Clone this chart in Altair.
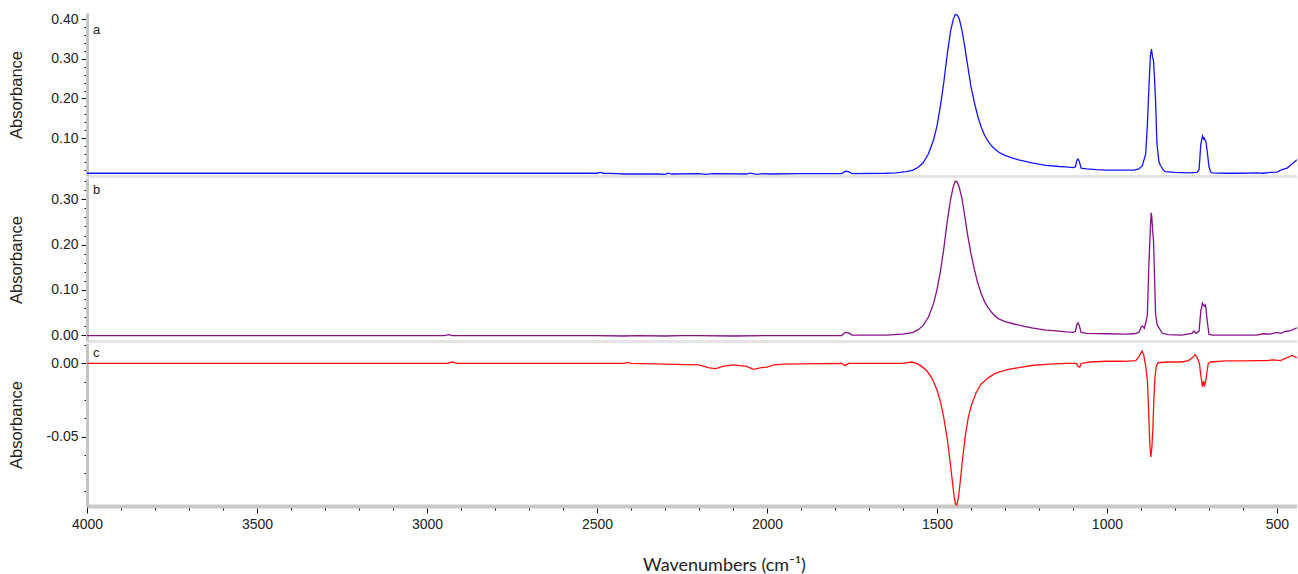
import altair as alt
import pandas as pd

# ---------------- data ----------------
wn_a = [4000, 3500, 3000, 2600, 2500, 2490, 2480, 2440, 2420, 2320, 2300, 2290, 2280, 2200, 2180, 2160,
        2060, 2050, 2030, 2010, 1990, 1900, 1780, 1770, 1760, 1750, 1650, 1620, 1590, 1570, 1555,
        1540, 1525, 1510, 1500, 1490, 1480, 1470, 1460, 1452, 1446, 1440, 1434, 1426, 1418, 1410,
        1400, 1390, 1380, 1370, 1360, 1350, 1340, 1330, 1318, 1300, 1280, 1260, 1240, 1221, 1180,
        1140, 1121, 1100, 1093, 1088, 1085, 1081, 1076, 1060, 1030, 1000, 960, 920, 906, 896, 886,
        881, 876, 872, 869, 866, 863, 860, 857, 853, 847, 843, 835, 829, 800, 760, 735, 729, 724,
        719, 716, 714, 711, 709, 705, 700, 695, 690, 650, 600, 560, 540, 520, 500, 485, 470, 455, 441]
abs_a = [0.011, 0.011, 0.011, 0.011, 0.011, 0.013, 0.011, 0.010, 0.009, 0.009, 0.008, 0.011, 0.009,
         0.010, 0.008, 0.010, 0.009, 0.011, 0.008, 0.010, 0.009, 0.010, 0.010, 0.016, 0.015, 0.010,
         0.011, 0.012, 0.015, 0.019, 0.026, 0.038, 0.060, 0.095, 0.130, 0.180, 0.240, 0.310, 0.370,
         0.400, 0.412, 0.411, 0.400, 0.370, 0.330, 0.285, 0.230, 0.190, 0.155, 0.128, 0.107, 0.092,
         0.081, 0.072, 0.064, 0.056, 0.050, 0.045, 0.041, 0.037, 0.031, 0.028, 0.027, 0.025, 0.027,
         0.045, 0.047, 0.040, 0.024, 0.022, 0.020, 0.019, 0.019, 0.019, 0.022, 0.030, 0.060, 0.135,
         0.240, 0.310, 0.325, 0.305, 0.295, 0.250, 0.195, 0.085, 0.040, 0.031, 0.020, 0.015, 0.013,
         0.012, 0.013, 0.020, 0.084, 0.105, 0.098, 0.100, 0.094, 0.092, 0.066, 0.028, 0.014, 0.012,
         0.011, 0.011, 0.012, 0.011, 0.013, 0.014, 0.020, 0.024, 0.035, 0.045]

wn_b = [4000, 3500, 3000, 2950, 2935, 2925, 2700, 2500, 2420, 2380, 2300, 2250, 2200, 2100, 2000,
        1900, 1780, 1770, 1760, 1750, 1650, 1600, 1570, 1555, 1540, 1525, 1510, 1500, 1490, 1480,
        1470, 1460, 1452, 1446, 1440, 1434, 1426, 1418, 1410, 1400, 1390, 1380, 1370, 1360, 1350,
        1340, 1330, 1318, 1300, 1270, 1240, 1221, 1180, 1140, 1121, 1100, 1093, 1088, 1085, 1081,
        1076, 1060, 1000, 950, 920, 906, 899, 895, 890, 885, 881, 877, 873, 870, 868, 866, 863, 859,
        857, 852, 847, 837, 820, 780, 750, 744, 738, 729, 724, 719, 716, 714, 711, 709, 705, 700,
        690, 650, 600, 560, 540, 520, 500, 490, 475, 460, 441]
abs_b = [-0.001, -0.001, -0.001, -0.001, 0.001, -0.001, -0.001, -0.001, -0.002, -0.001, -0.002,
         -0.001, -0.001, -0.002, -0.001, -0.001, -0.001, 0.006, 0.005, 0.000, 0.000, 0.002, 0.006,
         0.012, 0.022, 0.040, 0.070, 0.100, 0.140, 0.190, 0.250, 0.300, 0.328, 0.340, 0.338, 0.325,
         0.300, 0.262, 0.222, 0.180, 0.145, 0.115, 0.092, 0.074, 0.061, 0.051, 0.043, 0.036, 0.030,
         0.024, 0.019, 0.016, 0.011, 0.009, 0.007, 0.006, 0.008, 0.024, 0.027, 0.020, 0.006, 0.004,
         0.003, 0.002, 0.003, 0.006, 0.018, 0.020, 0.015, 0.030, 0.046, 0.150, 0.223, 0.270, 0.260,
         0.236, 0.207, 0.104, 0.046, 0.022, 0.016, 0.004, 0.001, 0.000, 0.004, 0.009, 0.004, 0.009,
         0.053, 0.071, 0.066, 0.064, 0.067, 0.060, 0.031, 0.002, 0.000, 0.000, 0.000, 0.000, 0.003,
         0.002, 0.006, 0.004, 0.008, 0.010, 0.016]

wn_c = [4000, 3500, 3000, 2940, 2925, 2910, 2420, 2410, 2400, 2200, 2170, 2150, 2130, 2100, 2060,
        2040, 2020, 2000, 1980, 1950, 1780, 1770, 1760, 1600, 1575, 1560, 1545, 1530, 1515, 1500,
        1490, 1480, 1470, 1462, 1455, 1450, 1446, 1442, 1437, 1432, 1425, 1417, 1408, 1398, 1385,
        1370, 1350, 1330, 1318, 1290, 1250, 1221, 1180, 1121, 1090, 1085, 1080, 1076, 1050, 1000,
        950, 915, 905, 897, 892, 886, 881, 877, 874, 871, 868, 865, 862, 859, 855, 850, 820, 780,
        760, 748, 741, 735, 728, 724, 719, 716, 713, 710, 706, 702, 695, 650, 600, 560, 530, 510,
        490, 470, 455, 441]
abs_c = [0.0, 0.0, 0.0, 0.0, 0.001, 0.0, 0.0, 0.0007, 0.0, -0.001, -0.003, -0.0035, -0.002, -0.001,
         -0.002, -0.004, -0.003, -0.0025, -0.001, -0.0005, 0.0, -0.0015, 0.0, 0.0, 0.001, 0.0,
         -0.002, -0.005, -0.010, -0.018, -0.026, -0.037, -0.051, -0.066, -0.080, -0.090, -0.096,
         -0.097, -0.092, -0.082, -0.066, -0.050, -0.037, -0.028, -0.020, -0.014, -0.010, -0.007,
         -0.006, -0.004, -0.0025, -0.0014, -0.0006, 0.0, 0.0, -0.002, -0.0025, 0.0, 0.001, 0.0015,
         0.0015, 0.002, 0.005, 0.0085, 0.006, -0.002, -0.012, -0.035, -0.055, -0.064, -0.058,
         -0.045, -0.025, -0.010, -0.002, 0.0005, 0.001, 0.001, 0.002, 0.004, 0.006, 0.004, 0.0,
         -0.008, -0.016, -0.012, -0.015, -0.013, -0.006, 0.0, 0.001, 0.0018, 0.0018, 0.002, 0.002,
         0.0025, 0.002, 0.004, 0.0055, 0.004]

x_domain = [4000, 441]
x_ticks = list(range(4000, 441, -100))
ticks_a = [round(0.02 * i, 2) for i in range(1, 21)]
ticks_b = [round(0.02 * i, 2) for i in range(0, 18)]
ticks_c = [round(0.0125 - 0.0125 * i, 4) for i in range(0, 9)]

W = 1210
H = 163
LABEL_FONT = "Liberation Sans"
AXIS_GREY = "#c4c4c4"


def y_axis(values, step_mult):
    major = f"abs(datum.value*{step_mult} - round(datum.value*{step_mult})) < 0.000001"
    return alt.Axis(
        values=values,
        title="Absorbance",
        titleFont=LABEL_FONT, titleFontSize=16.5, titleFontWeight="normal", titleColor="#222222",
        titlePadding=8,
        labelFont=LABEL_FONT, labelFontSize=14, labelColor="#222222", labelPadding=3,
        labelOverlap=False, labelFlush=False,
        labelExpr=f"{major} ? (datum.value < 0 ? '-' : '') + format(abs(datum.value), '.2f') : ''",
        tickSize={"condition": {"test": major, "value": 6}, "value": 3},
        tickColor="#111111", tickWidth=1,
        domainColor=AXIS_GREY, domainWidth=3,
        grid=False, minExtent=55, maxExtent=55,
    )


sep_axis = alt.Axis(domain=True, domainColor="#e4e4e4", domainWidth=3, ticks=False,
                    labels=False, title=None, grid=False)

bottom_axis = alt.Axis(
    values=x_ticks,
    title="Wavenumbers (cm⁻¹)",
    titleFont="Lato", titleFontSize=18, titleFontWeight="normal", titleColor="#222222",
    titlePadding=25, titleX=637,
    labelFont=LABEL_FONT, labelFontSize=14, labelColor="#222222", labelPadding=4,
    labelOverlap=False, labelFlush=False,
    labelExpr="datum.value % 500 == 0 ? '' + datum.value : ''",
    tickSize={"condition": {"test": "datum.value % 500 == 0", "value": 7}, "value": 4},
    tickColor="#111111", tickWidth=1,
    domainColor="#c8c8c8", domainWidth=4, grid=False,
)


def panel(wn, ab, color, y_dom, yaxis, xaxis, letter, ly):
    df = pd.DataFrame({"wn": wn, "abs": ab})
    line = alt.Chart(df).mark_line(color=color, strokeWidth=1.3, clip=True).encode(
        x=alt.X("wn:Q", scale=alt.Scale(domain=x_domain, nice=False, zero=False), axis=xaxis),
        y=alt.Y("abs:Q", scale=alt.Scale(domain=y_dom, nice=False, zero=False), axis=yaxis),
    )
    txt = alt.Chart(pd.DataFrame({"t": [letter]})).mark_text(
        font=LABEL_FONT, fontSize=13, color="#222222", align="left", baseline="middle"
    ).encode(text="t:N", x=alt.value(6), y=alt.value(ly))
    return alt.layer(line, txt).properties(width=W, height=H)


pa = panel(wn_a, abs_a, "#1414ff", [0.004, 0.416], y_axis(ticks_a, 10), sep_axis, "a", 17)
pb = panel(wn_b, abs_b, "#86108a", [-0.013, 0.347], y_axis(ticks_b, 10), sep_axis, "b", 12)
pc = panel(wn_c, abs_c, "#ff1010", [-0.0975, 0.014], y_axis(ticks_c, 20), bottom_axis, "c", 10)

chart = alt.vconcat(pa, pb, pc, spacing=2, bounds="flush").properties(
    padding={"left": 8, "top": 12, "right": 0, "bottom": 0},
    background="white",
).configure_view(stroke=None)

chart.save("out.html", embed_options={"renderer": "svg", "actions": False})
